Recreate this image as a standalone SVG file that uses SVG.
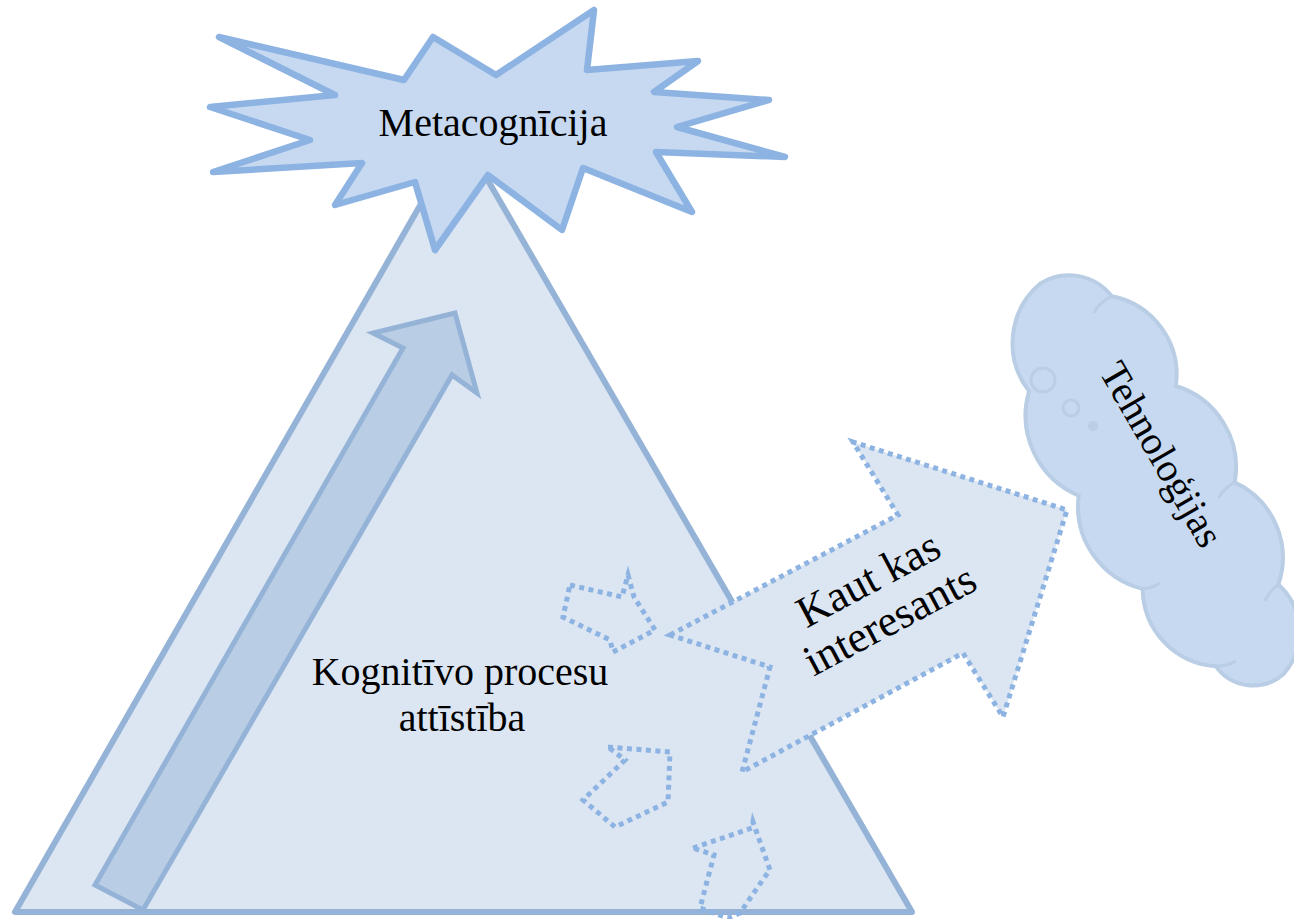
<svg xmlns="http://www.w3.org/2000/svg" width="1294" height="919" viewBox="0 0 1294 919">
<style>
.tri{fill:#dce6f2;stroke:#95b3d7;stroke-width:6;stroke-linejoin:round}
.up{fill:#b9cde5;stroke:#95b3d7;stroke-width:5;stroke-linejoin:miter}
.star{fill:#c6d9f1;stroke:#8db3e2;stroke-width:6.5;stroke-linejoin:round}
.dot{fill:#dce6f2;stroke:#8db3e2;stroke-width:5;stroke-dasharray:5 4.5}
.frag{fill:none;stroke:#8db3e2;stroke-width:5;stroke-dasharray:5 4.5}
.cloud{fill:#c6d9f1;stroke:#b9cde5;stroke-width:4}
.cl{fill:none;stroke:#b9cde5;stroke-width:3}
.t{font-family:"Liberation Serif","Times New Roman",serif;font-size:40px;fill:#000;text-anchor:middle}
.t2{font-size:44px}
</style>
<g id="pyramid">
<polygon class="tri" points="461,134 15,912 912,912"/>
<polygon class="up" points="95,885 403,348 373,333 455,313 477,393 452,375 143,910"/>
</g>
<g id="metacognicija">
<polygon class="star" points="219,37 404,80 433,37 496,75 594,10 587,70 698,61 654,92 769,100 677,127 785,157 656,152 692,212 583,168 562,230 488,175 435,250 415,182 335,205 362,163 213,172 310,140 210,107 335,95"/>
</g>
<g id="connectors">
<polygon class="frag" points="570,585 622,597 628,575 634,597 655,630 613,652 610,640 563,617"/>
<polygon class="frag" points="608,747 670,752 668,802 615,827 583,800 625,760"/>
<polygon class="frag" points="693,848 752,828 753,822 770,870 764,878 740,913 728,918 700,908 714,855"/>
<polygon class="dot" points="670,635 898,515 853,442 1067,510 1003,717 963,653 742,772 770,667"/>
</g>
<g id="tehnologijas">
<g transform="translate(1155,490) rotate(58.6)">
<path class="cloud" d="M -236,-10 A 54 54 0 0 1 -188,-64 A 80 80 0 0 1 -78,-72 A 85 85 0 0 1 35,-72 A 83 83 0 0 1 145,-56 A 64 64 0 0 1 224,-14 A 46 46 0 0 1 182,40 A 78 78 0 0 1 78,62 A 85 85 0 0 1 -35,68 A 87 87 0 0 1 -150,56 A 78 78 0 0 1 -236,-10 Z"/>
<path class="cl" d="M -188,-64 A 40 40 0 0 0 -183,-40"/>
<path class="cl" d="M 35,-72 A 40 40 0 0 0 40,-50"/>
<path class="cl" d="M 145,-56 A 40 40 0 0 0 152,-36"/>
<path class="cl" d="M 182,40 A 40 40 0 0 0 188,20"/>
<path class="cl" d="M 78,62 A 40 40 0 0 0 82,44"/>
</g>
<circle class="cl" cx="1043" cy="380" r="12"/>
<circle class="cl" cx="1071" cy="408" r="8"/>
<circle cx="1093" cy="426" r="5" fill="#b9cde5"/>
</g>
<g id="labels">
<text class="t" x="493" y="136">Metacognīcija</text>
<text class="t" x="460" y="685">Kognitīvo procesu</text>
<text class="t" x="462" y="731">attīstība</text>
<g transform="translate(875,592) rotate(-28)"><text class="t t2" x="0" y="0">Kaut kas</text><text class="t t2" x="0" y="46">interesants</text></g>
<text class="t" transform="translate(1150,461) rotate(60)">Tehnoloģijas</text>
</g>
</svg>
